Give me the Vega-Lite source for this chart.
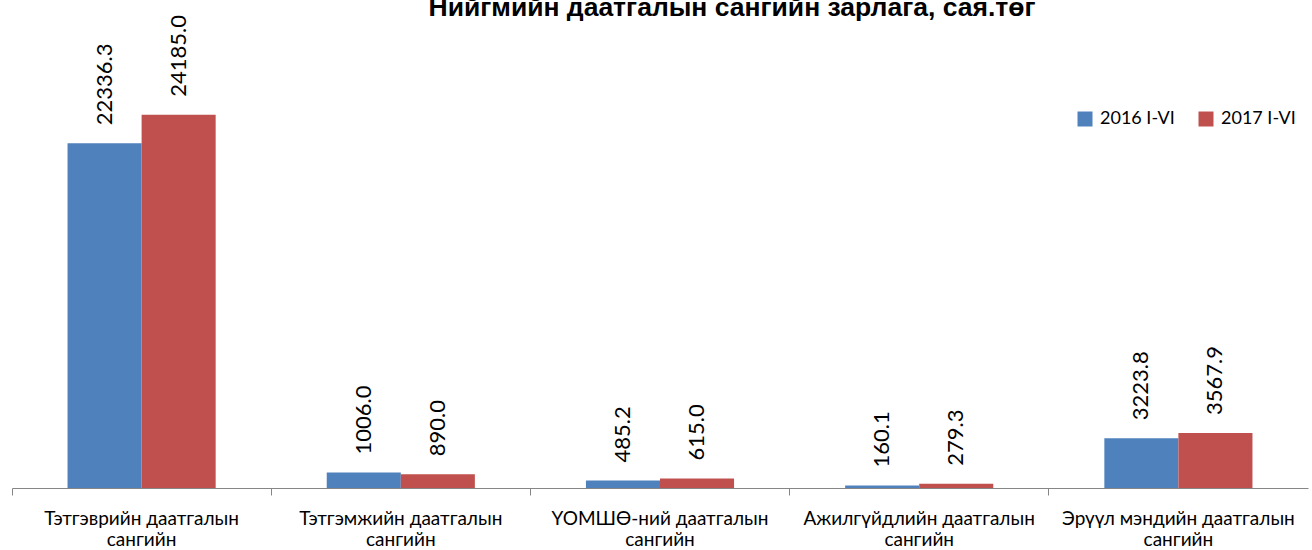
{
  "$schema": "https://vega.github.io/schema/vega-lite/v6.json",
  "width": 1296,
  "height": 463,
  "autosize": {"type": "none"},
  "padding": {"left": 12, "top": 25, "right": 4, "bottom": 62},
  "background": "white",
  "title": {
    "text": "Нийгмийн даатгалын сангийн зарлага, сая.төг",
    "font": "Liberation Sans",
    "fontSize": 26.5,
    "fontWeight": "bold",
    "color": "black",
    "anchor": "middle",
    "frame": "group",
    "baseline": "alphabetic",
    "dx": 72,
    "dy": 28,
    "offset": 0
  },
  "data": {
    "values": [
      {"category": "Тэтгэврийн даатгалын сангийн", "period": "2016 I-VI", "value": 22336.3},
      {"category": "Тэтгэврийн даатгалын сангийн", "period": "2017 I-VI", "value": 24185.0},
      {"category": "Тэтгэмжийн даатгалын сангийн", "period": "2016 I-VI", "value": 1006.0},
      {"category": "Тэтгэмжийн даатгалын сангийн", "period": "2017 I-VI", "value": 890.0},
      {"category": "ҮОМШӨ-ний даатгалын сангийн", "period": "2016 I-VI", "value": 485.2},
      {"category": "ҮОМШӨ-ний даатгалын сангийн", "period": "2017 I-VI", "value": 615.0},
      {"category": "Ажилгүйдлийн даатгалын сангийн", "period": "2016 I-VI", "value": 160.1},
      {"category": "Ажилгүйдлийн даатгалын сангийн", "period": "2017 I-VI", "value": 279.3},
      {"category": "Эрүүл мэндийн даатгалын сангийн", "period": "2016 I-VI", "value": 3223.8},
      {"category": "Эрүүл мэндийн даатгалын сангийн", "period": "2017 I-VI", "value": 3567.9}
    ]
  },
  "encoding": {
    "x": {
      "field": "category",
      "type": "nominal",
      "sort": null,
      "scale": {"paddingInner": 0, "paddingOuter": 0},
      "axis": {
        "title": null,
        "labelAngle": 0,
        "labelFont": "Lato",
        "labelFontSize": 19,
        "labelColor": "black",
        "labelLineHeight": 21.5,
        "labelBaseline": "top",
        "labelPadding": 14,
        "labelLimit": 400,
        "labelExpr": "[slice(datum.value, 0, lastindexof(datum.value, ' ')), slice(datum.value, lastindexof(datum.value, ' ') + 1)]",
        "bandPosition": 0,
        "ticks": true,
        "tickSize": 7,
        "tickColor": "#868686",
        "domainColor": "#868686",
        "domainWidth": 1,
        "grid": false
      }
    },
    "xOffset": {
      "field": "period",
      "type": "nominal",
      "scale": {"paddingInner": 0, "paddingOuter": 0.75}
    },
    "y": {
      "field": "value",
      "type": "quantitative",
      "scale": {"domain": [0, 30000]},
      "axis": null
    }
  },
  "layer": [
    {
      "mark": {"type": "bar"},
      "encoding": {
        "color": {
          "field": "period",
          "type": "nominal",
          "scale": {"domain": ["2016 I-VI", "2017 I-VI"], "range": ["#4F81BD", "#C0504D"]},
          "legend": {
            "title": null,
            "orient": "none",
            "direction": "horizontal",
            "legendX": 1064,
            "legendY": 85,
            "symbolType": "square",
            "symbolSize": 225,
            "symbolStrokeWidth": 0,
            "labelFont": "Lato",
            "labelFontSize": 18,
            "labelColor": "black",
            "labelOffset": 6,
            "columnPadding": 22,
            "padding": 0
          }
        }
      }
    },
    {
      "mark": {
        "type": "text",
        "angle": 270,
        "align": "left",
        "baseline": "middle",
        "dx": 18,
        "font": "Lato",
        "fontSize": 22,
        "color": "black"
      },
      "encoding": {
        "text": {"field": "value", "type": "quantitative", "format": ".1f"}
      }
    }
  ],
  "config": {
    "view": {"stroke": null}
  }
}
